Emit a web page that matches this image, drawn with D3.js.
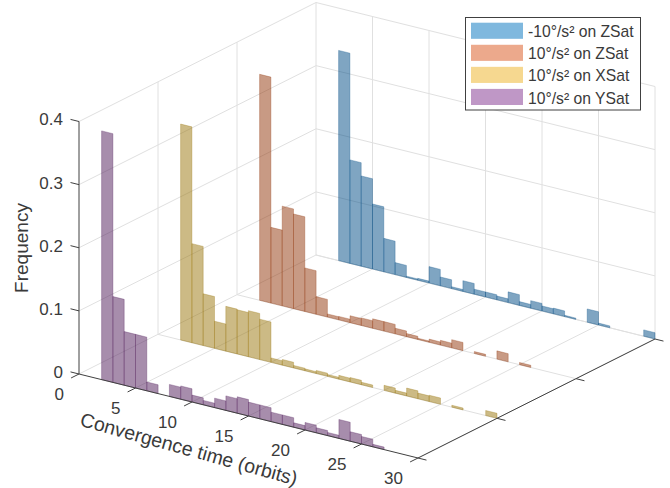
<!DOCTYPE html>
<html>
<head>
<meta charset="utf-8">
<script src="https://cdn.jsdelivr.net/npm/d3@7"></script>
<style>
  html, body { margin: 0; padding: 0; background: white; }
  text { font-family: "Liberation Sans", Arial, sans-serif; fill: #3a3a3a; }
</style>
</head>
<body>
<svg id="chart" width="670" height="488"></svg>
<script>
// Series names, back to front
const seriesNames = ["-10°/s² on ZSat", "10°/s² on ZSat", "10°/s² on XSat", "10°/s² on YSat"];
const legendColors = ["#7fb8de", "#eca98c", "#f6d890", "#bf97c6"];
const barColors = ["#004c85", "#913509", "#99750b", "#4f1b59"];

// Left edge of each one orbit bin
const bins = [2, 3, 4, 5, 6, 7, 8, 9, 10, 11, 12, 13, 14, 15, 16, 17, 18, 19, 20, 21, 22, 23, 24, 25, 26, 27, 28, 29];

const zsatNeg = [0.333, 0.164, 0.143, 0.103, 0.053, 0.019, 0.002, 0.003, 0.026, 0.014, 0.003, 0.017, 0.008, 0.008, 0.006, 0.017, 0.006, 0.012, 0.008, 0.009, 0.002, 0, 0.021, 0.003, 0, 0, 0, 0.010];
const zsatPos = [0.358, 0.120, 0.158, 0.150, 0.069, 0.028, 0.005, 0.0055, 0.011, 0.012, 0.015, 0.015, 0.009, 0.005, 0.002, 0.005, 0.0075, 0.013, 0, 0.003, 0, 0.013, 0, 0.0035, 0, 0, 0, 0];
const xsatPos = [0.342, 0.157, 0.082, 0.043, 0.071, 0.070, 0.073, 0.064, 0.007, 0.009, 0.004, 0.003, 0.005, 0.003, 0.006, 0.007, 0.004, 0, 0.008, 0.0045, 0.0125, 0.009, 0.010, 0, 0.003, 0, 0, 0.008];
const ysatPos = [0.394, 0.136, 0.085, 0.085, 0.014, 0, 0.019, 0.021, 0.011, 0.007, 0.015, 0.023, 0.026, 0.022, 0.022, 0.015, 0.015, 0.007, 0.012, 0.008, 0.005, 0.030, 0.015, 0.012, 0.004, 0, 0, 0];
const seriesValues = [zsatNeg, zsatPos, xsatPos, ysatPos];
const seriesDepth = [3, 2, 1, 0];

const xTicks = [0, 5, 10, 15, 20, 25, 30];
const yTicks = [0, 1, 2, 3];
const zTicks = [0, 0.1, 0.2, 0.3, 0.4];

const svg = d3.select("#chart");

// Orthographic view: every data axis moves along its own screen direction
const originX = 79, originY = 374;
const xToH = d3.scaleLinear().domain([0, 30]).range([0, 339]);
const xToV = d3.scaleLinear().domain([0, 30]).range([0, 84]);
const yToH = d3.scaleLinear().domain([0, 3]).range([0, 237]);
const yToV = d3.scaleLinear().domain([0, 3]).range([0, -119]);
const zToV = d3.scaleLinear().domain([0, 0.4]).range([0, -252.5]);

function project(x, y, z) {
    return [originX + xToH(x) + yToH(y), originY + xToV(x) + yToV(y) + zToV(z)];
}

const line = d3.line();

function drawSegment(group, a, b, color, width) {
    group.append("path")
        .attr("d", line([a, b]))
        .attr("fill", "none")
        .attr("stroke", color)
        .attr("stroke-width", width);
}

// Grid on the floor and the two back walls
const grid = svg.append("g");
const gridColor = "#e0e0e0";
xTicks.slice(1).forEach(x => {
    drawSegment(grid, project(x, 0, 0), project(x, 3, 0), gridColor, 1);
    drawSegment(grid, project(x, 3, 0), project(x, 3, 0.4), gridColor, 1);
});
yTicks.slice(1).forEach(y => {
    drawSegment(grid, project(0, y, 0), project(30, y, 0), gridColor, 1);
    drawSegment(grid, project(0, y, 0), project(0, y, 0.4), gridColor, 1);
});
zTicks.forEach(z => {
    drawSegment(grid, project(0, 0, z), project(0, 3, z), gridColor, 1);
    drawSegment(grid, project(0, 3, z), project(30, 3, z), gridColor, 1);
});

// Bars, each histogram is flat in its own depth plane
seriesValues.forEach((values, s) => {
    const y = seriesDepth[s];
    svg.append("g")
        .selectAll("path")
        .data(bins.map((b, i) => ({ bin: b, value: values[i] })).filter(d => d.value > 0))
        .enter().append("path")
        .attr("d", d => line([
            project(d.bin, y, 0),
            project(d.bin, y, d.value),
            project(d.bin + 1, y, d.value),
            project(d.bin + 1, y, 0)
        ]) + "Z")
        .attr("fill", barColors[s])
        .attr("fill-opacity", 0.5)
        .attr("stroke", barColors[s])
        .attr("stroke-opacity", 0.3)
        .attr("stroke-width", 1);
});

// Axes
const axes = svg.append("g");
const axisColor = "#404040";
drawSegment(axes, project(0, 0, 0), project(30, 0, 0), axisColor, 1);
drawSegment(axes, project(30, 0, 0), project(30, 3, 0), axisColor, 1);
drawSegment(axes, project(0, 0, 0), project(0, 0, 0.4), axisColor, 1);

const tickLength = 0.75; // in x axis units
xTicks.forEach(x => {
    drawSegment(axes, project(x, 0, 0), project(x, -0.1, 0), axisColor, 1);
    axes.append("text")
        .attr("x", project(x, 0, 0)[0] - 15)
        .attr("y", project(x, 0, 0)[1] + 20)
        .attr("dy", "0.35em")
        .style("text-anchor", "end")
        .style("font-size", "17px")
        .text(x);
});

yTicks.forEach(y => {
    drawSegment(axes, project(30, y, 0), project(30 + tickLength, y, 0), axisColor, 1);
});

zTicks.forEach(z => {
    drawSegment(axes, project(0, 0, z), project(-tickLength, 0, z), axisColor, 1);
    axes.append("text")
        .attr("x", project(0, 0, z)[0] - 16)
        .attr("y", project(0, 0, z)[1] - 2)
        .attr("dy", "0.35em")
        .style("text-anchor", "end")
        .style("font-size", "17px")
        .text(z === 0 ? "0" : z.toFixed(1));
});

// Axis labels
axes.append("text")
    .attr("transform", "translate(189,449) rotate(15.5)")
    .attr("dy", "0.35em")
    .style("text-anchor", "middle")
    .style("font-size", "19.5px")
    .text("Convergence time (orbits)");

axes.append("text")
    .attr("transform", "translate(21,248) rotate(-90)")
    .attr("dy", "0.35em")
    .style("text-anchor", "middle")
    .style("font-size", "19px")
    .text("Frequency");

// Legend
const legend = svg.append("g").attr("transform", "translate(465,17.5)");
legend.append("rect")
    .attr("x", 0.5)
    .attr("y", 0)
    .attr("width", 175)
    .attr("height", 92.5)
    .attr("fill", "white")
    .attr("stroke", "#404040")
    .attr("stroke-width", 1);

const legendRow = d3.scaleBand().domain(seriesNames).range([5.2, 87.5]).paddingInner(0.27);

seriesNames.forEach((name, i) => {
    legend.append("rect")
        .attr("x", 6)
        .attr("y", legendRow(name))
        .attr("width", 52)
        .attr("height", legendRow.bandwidth())
        .attr("fill", legendColors[i]);
    legend.append("text")
        .attr("x", 63)
        .attr("y", legendRow(name) + legendRow.bandwidth() / 2)
        .attr("dy", "0.42em")
        .style("font-size", "15.7px")
        .text(name);
});
</script>
</body>
</html>
